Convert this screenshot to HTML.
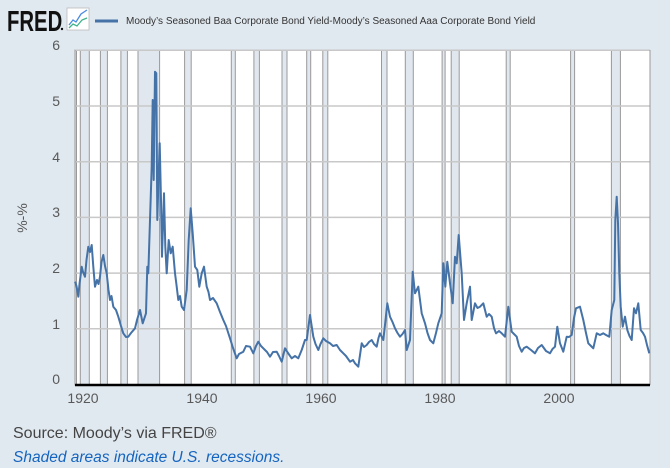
<!DOCTYPE html>
<html><head><meta charset="utf-8"><style>
body{margin:0;background:#e1e9f0;width:670px;height:468px;overflow:hidden;font-family:"Liberation Sans",sans-serif;}
</style></head><body>
<svg width="670" height="468" xmlns="http://www.w3.org/2000/svg" style="position:absolute;left:0;top:0">
<rect width="670" height="468" fill="#e1e9f0"/>
<text transform="translate(7,31) scale(0.7,1)" font-size="29" font-weight="bold" fill="#111" font-family="Liberation Sans">FRED</text>
<circle cx="62" cy="29" r="1.2" fill="#111"/>
<rect x="67" y="8" width="22" height="22" fill="#fff" stroke="#bbb" stroke-width="0.8"/>
<polyline points="69,25 73,20 76,22 81,14 87,10" fill="none" stroke="#4a8be0" stroke-width="1.3"/>
<polyline points="69,28 73,24 77,26 82,20 87,18" fill="none" stroke="#3cb38a" stroke-width="1.3"/>
<line x1="95" y1="21" x2="118" y2="21" stroke="#4572a7" stroke-width="3"/>
<text x="126" y="24" font-size="10" fill="#333">Moody’s Seasoned Baa Corporate Bond Yield-Moody’s Seasoned Aaa Corporate Bond Yield</text>
<rect x="75" y="50" width="575" height="335" fill="#fff"/>
<g fill="#e1e7ee" stroke="#999" stroke-width="1">
<rect x="75" y="50" width="1.5" height="335"/>
<rect x="80.3" y="50" width="9" height="335"/>
<rect x="100.4" y="50" width="7" height="335"/>
<rect x="120.9" y="50" width="6.5" height="335"/>
<rect x="138" y="50" width="21.6" height="335"/>
<rect x="184.6" y="50" width="6.6" height="335"/>
<rect x="231.3" y="50" width="4" height="335"/>
<rect x="253.9" y="50" width="5.5" height="335"/>
<rect x="282" y="50" width="5" height="335"/>
<rect x="306.7" y="50" width="4" height="335"/>
<rect x="322.8" y="50" width="5" height="335"/>
<rect x="381.5" y="50" width="5.5" height="335"/>
<rect x="405.3" y="50" width="8" height="335"/>
<rect x="442.1" y="50" width="3" height="335"/>
<rect x="451.2" y="50" width="8" height="335"/>
<rect x="506.2" y="50" width="4" height="335"/>
<rect x="570.6" y="50" width="4" height="335"/>
<rect x="611.4" y="50" width="9" height="335"/>
</g>
<g stroke="#c8c8c8" stroke-width="1.5">
<line x1="75" y1="50.3" x2="650" y2="50.3"/>
<line x1="75" y1="106" x2="650" y2="106"/>
<line x1="75" y1="161.7" x2="650" y2="161.7"/>
<line x1="75" y1="217.4" x2="650" y2="217.4"/>
<line x1="75" y1="273.1" x2="650" y2="273.1"/>
<line x1="75" y1="328.8" x2="650" y2="328.8"/>
</g>
<line x1="75" y1="50" x2="75" y2="385" stroke="#999" stroke-width="1"/>
<line x1="650" y1="50" x2="650" y2="385" stroke="#999" stroke-width="1"/>
<polyline fill="none" stroke="#4572a7" stroke-width="2" stroke-linejoin="round" points="75,281.7 76.5,286 78.3,296.7 79.5,284 81.7,266.7 83,272 85,276.7 86.5,260 88.3,246.7 90,252 91.7,245 93.3,266.7 95,286.7 97,280 98.5,284 100,276.7 101.5,262 103.3,255 105,266 106.7,273.3 108.5,290 110,300 111.5,296 113.3,306.7 116,310 118.3,316.7 121,326 123.3,333.3 126,337 128.3,336.7 131,333 135,328.3 137,320 140,310 142.7,323.3 146,313.3 147.3,266.7 148.3,273.3 150,220 151.7,166.7 152.7,100 153.7,180 155,71.7 156.3,73.3 157.3,220 158.7,173.3 159.7,143.3 161,200 162,256.7 164,193.3 165.3,246.7 166.7,273.3 168.7,240 170.7,253.3 172.7,246.7 175,273.3 176.5,285 178.3,300 180,296 181.7,306.7 184,310 186.7,290 188.7,240 190.7,208.3 192.7,233.3 195,266.7 197.3,270 199.3,286.7 201.7,273.3 204,266.7 206.7,286.7 208.5,292 210,300 213,298 216.7,303.3 220,312 223.3,320 226,326 230,338.3 233,348 236.7,358.3 239,354 243.3,351.7 246,346 250,346.7 253.3,353.3 256,346 258.3,341.7 261,346 263.3,348.3 267,352 270,356.7 273,352 276.7,351.7 279,356 281.7,361.7 285,348.3 288,353 291.7,358.3 295,356 298.3,358.3 301.7,350 305,340 306.7,340 310,315 313.3,336.7 315.5,344 318.3,350 320.5,344 323.3,338.3 326,341 330,343.3 333,346 336.7,345 340,350 343.3,353.3 346,356 350,361.7 353,360 355,363.3 358.3,366.7 361.7,343.3 364,347 366.7,345 369,342 371.7,340 374,344 376.7,346.7 378.5,338 380,333.3 383.3,340 385,325 387.3,303.3 390,316.7 392.5,322 395,328.3 397.5,333 400,336.7 402.5,334 405,330 406.7,350 410,340 412.7,271.7 415,293.3 418.3,286.7 420,300 421.7,313.3 425,323.3 427.5,333 430,340 433.3,343.3 436,333 438.3,323.3 441.7,313.3 443.3,263.3 445.3,286.7 447.3,261.7 450,283.3 452.7,303.3 455,256.7 456.7,263.3 458.7,235 461.7,273.3 464,320 466.7,303.3 470,286.7 471.7,320 475,303.3 477.5,308 480,306.7 483.3,303.3 486.7,316.7 489,314 491.7,316.7 494,328 496,333.3 499,331 501.7,333.3 505,336.7 508.3,306.7 511.7,331.7 514,334 516.7,336.7 519,346 521.7,351.7 524,348 526.7,346.7 531,350 535,353.3 538,348 541.7,345 546,351 550,353.3 552.5,349 555,346.7 557.3,326.7 560,343.3 563.3,351.7 566.7,336.7 569,337 571.7,335 574,318 576,308.3 580,306.7 583.3,320 586,333 588.3,343.3 591,346 593.3,348.3 596.7,333.3 600,335 603.3,333.3 606,335 609.3,336.7 611.7,310 614.3,300 615.3,220 616.7,196.7 618,223.3 619.3,273.3 620.7,306.7 622.7,326.7 625,316.7 627.3,330 629.5,336 631.7,340 634,308.3 636,313.3 638.3,303.3 640.7,330 643,333 645,336.7 647,345 649.3,353.3"/>
<line x1="75" y1="385" x2="650" y2="385" stroke="#000" stroke-width="2.5"/>
<g font-size="14" fill="#595959" text-anchor="end">
<text x="60" y="50">6</text>
<text x="60" y="106">5</text>
<text x="60" y="162">4</text>
<text x="60" y="217">3</text>
<text x="60" y="273">2</text>
<text x="60" y="329">1</text>
<text x="60" y="384">0</text>
</g>
<text transform="translate(27,218) rotate(-90)" font-size="14" fill="#595959" text-anchor="middle">%-%</text>
<g font-size="14" fill="#595959" text-anchor="middle">
<text x="83" y="403">1920</text>
<text x="202" y="403">1940</text>
<text x="321" y="403">1960</text>
<text x="440" y="403">1980</text>
<text x="559" y="403">2000</text>
</g>
<text x="13" y="438" font-size="16" fill="#444">Source: Moody’s via FRED®</text>
<text x="13" y="462" font-size="15.5" font-style="italic" fill="#1565c0">Shaded areas indicate U.S. recessions.</text>
</svg>
</body></html>
